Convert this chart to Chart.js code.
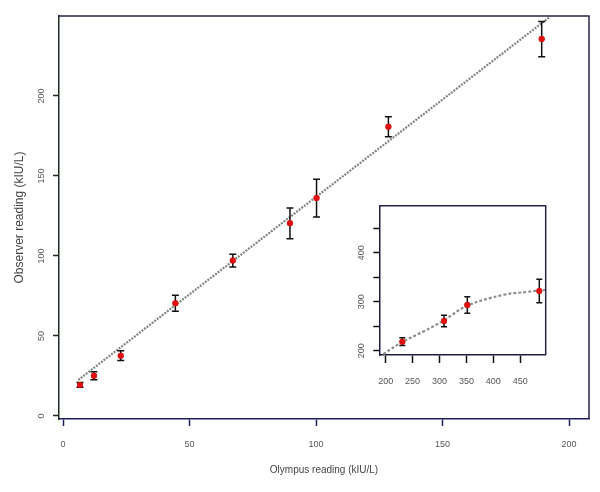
<!DOCTYPE html>
<html>
<head>
<meta charset="utf-8">
<script src="https://cdn.jsdelivr.net/npm/chart.js@4.4.0/dist/chart.umd.min.js"></script>
<style>
  html, body { margin: 0; padding: 0; background: #fff; }
  #wrap { position: relative; width: 600px; height: 492px; }
  #main { position: absolute; left: 0; top: 0; }
  #inset { position: absolute; left: 340px; top: 195px; }
</style>
</head>
<body>
<div id="wrap">
  <canvas id="main" width="600" height="492"></canvas>
  <canvas id="inset" width="215" height="200"></canvas>
</div>
<script>
// main plot data
const olympus = [6.7, 12.2, 22.8, 44.4, 67.1, 89.7, 100.2, 128.6, 189.2];
const observer = [19.4, 25.2, 37.7, 70.4, 97.1, 120.4, 136.2, 180.8, 235.6];
const observerErr = [1.5, 2.5, 3, 5, 4, 9.6, 11.8, 6.2, 11];
const fitX = [6.0, 192.5];
const fitY = [22.5, 249.5];
const xTicks = [0, 50, 100, 150, 200];
const yTicks = [0, 50, 100, 150, 200];

// inset data
const insetOlympus = [230.9, 308.4, 351.7, 485.5];
const insetObserver = [218.4, 260.6, 293.3, 321.8];
const insetErr = [8, 11.6, 17, 23.8];
const curveX = [195.5, 231, 270, 308, 352, 419, 463, 496];
const curveY = [192.7, 218, 239, 262, 292, 314, 320, 324];
const insetXTicks = [200, 250, 300, 350, 400, 450];
const insetYTicks = [200, 250, 300, 350, 400, 450];
const insetYLabelled = [200, 300, 400];

const font = "'Liberation Sans', Arial, sans-serif";
const textColor = '#555';

function toPoints(xs, ys) {
  return xs.map((x, i) => ({x: x, y: ys[i]}));
}

// error bars drawn from each dataset's err array
const errorBars = {
  id: 'errorBars',
  afterDatasetsDraw(chart, args, opts) {
    const ctx = chart.ctx;
    const xs = chart.scales.x, ys = chart.scales.y;
    ctx.save();
    ctx.strokeStyle = '#111';
    ctx.lineWidth = 1.5;
    chart.data.datasets.forEach(ds => {
      if (!ds.err) return;
      ds.data.forEach((p, i) => {
        const px = xs.getPixelForValue(p.x);
        const top = ys.getPixelForValue(p.y + ds.err[i]);
        const bot = ys.getPixelForValue(p.y - ds.err[i]);
        const w = opts.cap || 3.5;
        ctx.beginPath();
        ctx.moveTo(px, top); ctx.lineTo(px, bot);
        ctx.moveTo(px - w, top); ctx.lineTo(px + w, top);
        ctx.moveTo(px - w, bot); ctx.lineTo(px + w, bot);
        ctx.stroke();
      });
    });
    ctx.restore();
    // redraw the red points on top
    chart.data.datasets.forEach((ds, i) => {
      if (ds.err) chart.getDatasetMeta(i).controller.draw();
    });
  }
};

// top and right sides of the box
const frame = {
  id: 'frame',
  afterDraw(chart) {
    const {ctx, chartArea: a} = chart;
    ctx.save();
    ctx.strokeStyle = '#26264a';
    ctx.lineWidth = 1.5;
    ctx.beginPath();
    ctx.moveTo(a.left, a.top);
    ctx.lineTo(a.right, a.top);
    ctx.lineTo(a.right, a.bottom);
    ctx.stroke();
    ctx.restore();
  }
};

new Chart(document.getElementById('main'), {
  type: 'scatter',
  data: {
    datasets: [
      {
        type: 'line',
        data: toPoints(fitX, fitY),
        borderColor: '#7e877e',
        borderWidth: 2.2,
        borderDash: [2, 1.2],
        pointRadius: 0,
        fill: false
      },
      {
        data: toPoints(olympus, observer),
        err: observerErr,
        backgroundColor: '#e01010',
        borderWidth: 0,
        pointRadius: 3
      }
    ]
  },
  options: {
    responsive: false,
    animation: false,
    layout: {padding: {left: 0, top: 16, right: 11, bottom: 0}},
    plugins: {
      legend: {display: false},
      tooltip: {enabled: false},
      errorBars: {cap: 3.5}
    },
    scales: {
      x: {
        type: 'linear',
        min: -1.6,
        max: 207.9,
        afterFit: s => { s.height = 73; },
        afterBuildTicks: s => { s.ticks = xTicks.map(v => ({value: v})); },
        grid: {drawOnChartArea: false, tickLength: 7, color: '#1e1e5e', tickWidth: 1.5},
        border: {color: '#1e1e5e', width: 1.5},
        ticks: {padding: 13, color: textColor, font: {family: font, size: 9}, maxRotation: 0},
        title: {display: true, text: 'Olympus reading (kIU/L)', color: '#444',
                font: {family: font, size: 10}, padding: {top: 0, bottom: 16}}
      },
      y: {
        type: 'linear',
        min: -1.9,
        max: 250,
        afterFit: s => { s.width = 59; },
        afterBuildTicks: s => { s.ticks = yTicks.map(v => ({value: v})); },
        grid: {drawOnChartArea: false, tickLength: 6, color: '#1e2b1e', tickWidth: 1.5},
        border: {color: '#1e2b1e', width: 1.5},
        ticks: {padding: 3.5, color: textColor, font: {family: font, size: 9},
                minRotation: 90, maxRotation: 90, crossAlign: 'center'},
        title: {display: true, text: 'Observer reading (kIU/L)', color: '#444',
                font: {family: font, size: 12}, padding: {top: 12, bottom: 0}}
      }
    }
  },
  plugins: [errorBars, frame]
});

new Chart(document.getElementById('inset'), {
  type: 'scatter',
  data: {
    datasets: [
      {
        type: 'line',
        data: toPoints(curveX, curveY),
        borderColor: '#8a908a',
        borderWidth: 2.2,
        borderDash: [3, 2],
        tension: 0.4,
        pointRadius: 0,
        fill: false
      },
      {
        data: toPoints(insetOlympus, insetObserver),
        err: insetErr,
        backgroundColor: '#e01010',
        borderWidth: 0,
        pointRadius: 3
      }
    ]
  },
  options: {
    responsive: false,
    animation: false,
    layout: {padding: {left: 0, top: 10.7, right: 9.3, bottom: 0}},
    plugins: {
      legend: {display: false},
      tooltip: {enabled: false},
      errorBars: {cap: 3}
    },
    scales: {
      x: {
        type: 'linear',
        min: 188.1,
        max: 497.4,
        afterFit: s => { s.height = 40; },
        afterBuildTicks: s => { s.ticks = insetXTicks.map(v => ({value: v})); },
        grid: {drawOnChartArea: false, tickLength: 8, color: '#111', tickWidth: 1.5},
        border: {color: '#1e1e3e', width: 1.5},
        ticks: {padding: 13, color: textColor, font: {family: font, size: 9}, maxRotation: 0}
      },
      y: {
        type: 'linear',
        min: 191.2,
        max: 496,
        afterFit: s => { s.width = 39.3; },
        afterBuildTicks: s => { s.ticks = insetYTicks.map(v => ({value: v})); },
        grid: {drawOnChartArea: false, tickLength: 6, color: '#111', tickWidth: 1.5},
        border: {color: '#1e1e3e', width: 1.5},
        ticks: {padding: 4, color: textColor, font: {family: font, size: 9},
                minRotation: 90, maxRotation: 90, crossAlign: 'center',
                callback: v => insetYLabelled.includes(v) ? String(v) : ''}
      }
    }
  },
  plugins: [errorBars, frame]
});
</script>
</body>
</html>
